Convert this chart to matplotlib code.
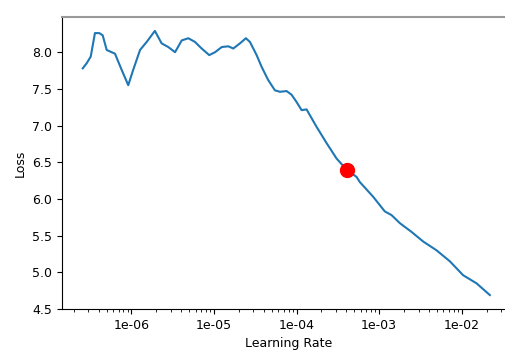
import matplotlib
matplotlib.use("Agg")
import matplotlib.pyplot as plt
from matplotlib.ticker import FormatStrFormatter

# learning rate finder curve
lrs = [2.57e-7, 2.87e-7, 3.21e-7, 3.61e-7, 4.07e-7, 4.48e-7, 5.01e-7, 5.75e-7,
       6.31e-7, 7.60e-7, 9.14e-7, 1.05e-6, 1.27e-6, 1.53e-6, 1.92e-6, 2.32e-6,
       2.79e-6, 3.37e-6, 4.06e-6, 4.88e-6, 5.87e-6, 7.08e-6, 8.75e-6, 1.03e-5,
       1.24e-5, 1.49e-5, 1.71e-5, 2.06e-5, 2.43e-5, 2.72e-5, 3.28e-5, 3.77e-5,
       4.53e-5, 5.46e-5, 6.28e-5, 7.57e-5, 8.69e-5, 1.00e-4, 1.15e-4, 1.32e-4,
       1.45e-4, 1.75e-4, 2.31e-4, 3.05e-4, 4.03e-4, 5.32e-4, 5.83e-4, 8.45e-4,
       1.17e-3, 1.41e-3, 1.78e-3, 2.47e-3, 3.41e-3, 4.95e-3, 7.18e-3, 1.04e-2,
       1.51e-2, 2.19e-2]
losses = [7.78, 7.85, 7.94, 8.26, 8.26, 8.23, 8.03, 8.00,
          7.98, 7.76, 7.55, 7.76, 8.03, 8.14, 8.29, 8.12,
          8.07, 8.00, 8.16, 8.19, 8.14, 8.05, 7.96, 8.00,
          8.07, 8.08, 8.05, 8.12, 8.19, 8.14, 7.96, 7.80,
          7.62, 7.48, 7.46, 7.47, 7.42, 7.32, 7.21, 7.22,
          7.14, 6.98, 6.76, 6.55, 6.40, 6.30, 6.23, 6.03,
          5.83, 5.78, 5.67, 5.55, 5.42, 5.30, 5.15, 4.96,
          4.85, 4.69]

# suggested point
min_grad_lr = 4.03e-4
min_grad_loss = 6.40

plt.rcParams["font.size"] = 9

fig = plt.figure(figsize=(5.06, 3.51), dpi=100)
# right edge of the axes sits just outside the picture (cropped screenshot)
ax = fig.add_axes([0.1225, 0.1197, 0.895, 0.832])

ax.plot(lrs, losses)
ax.plot(min_grad_lr, min_grad_loss, marker="o", markersize=10, color="red")
ax.set_xscale("log")
ax.set_xlim(1.44e-7, 4.4e-2)
ax.set_ylim(4.5, 8.48)
ax.xaxis.set_major_formatter(FormatStrFormatter("%.0e"))
ax.set_xlabel("Learning Rate")
ax.set_ylabel("Loss")
ax.spines["top"].set_color("#999999")
ax.spines["top"].set_linewidth(1.5)

fig.savefig("out.png", dpi=100)
